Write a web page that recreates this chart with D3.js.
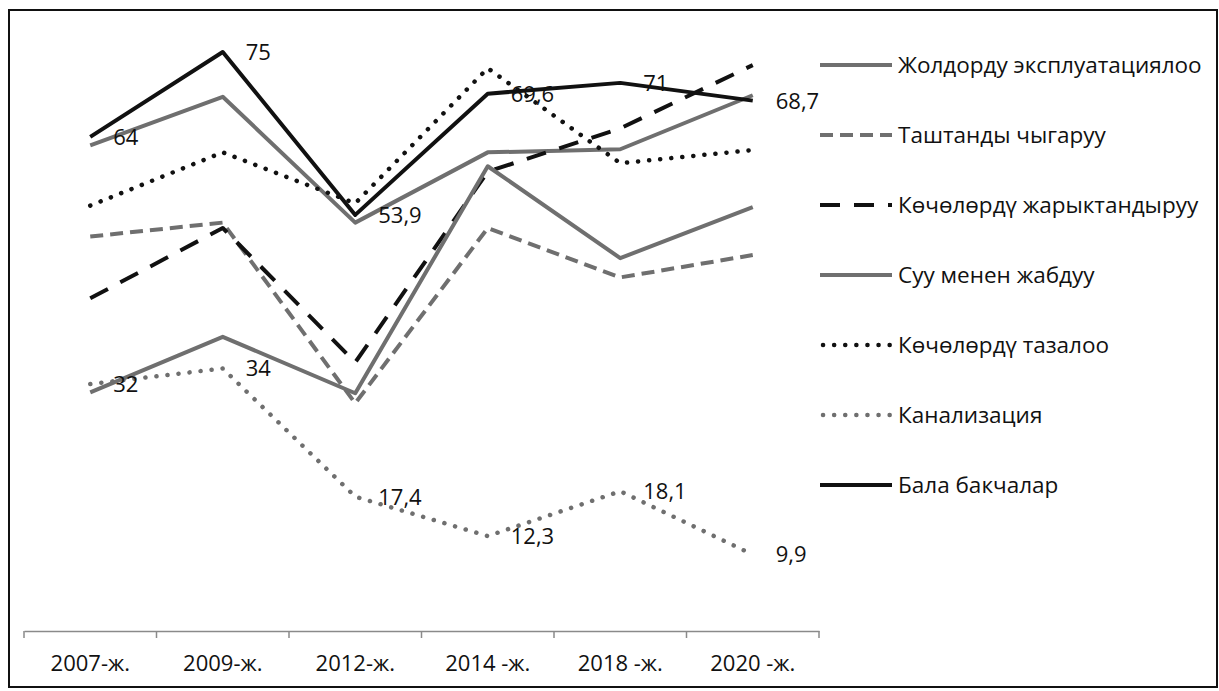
<!DOCTYPE html>
<html>
<head>
<meta charset="utf-8">
<script src="https://cdn.jsdelivr.net/npm/d3@7"></script>
<style>
  body { margin: 0; background: #fff; }
  text { font-family: "Open Sans", "Noto Sans", sans-serif; fill: #111; }
</style>
</head>
<body>
<svg id="chart"></svg>
<script>
var width = 1219;
var height = 691;

// categories on the x axis
var years = ["2007-ж.", "2009-ж.", "2012-ж.", "2014 -ж.", "2018 -ж.", "2020 -ж."];

// series values
var roads      = [62.9, 69.2, 52.9, 62.0, 62.4, 69.4];   // Жолдорду эксплуатациялоо
var waste      = [51.1, 52.9, 29.5, 52.2, 45.8, 48.7];   // Таштанды чыгаруу
var lighting   = [43.1, 52.2, 34.8, 59.5, 65.1, 73.3];   // Көчөлөрдү жарыктандыруу
var water      = [30.9, 38.1, 30.8, 60.2, 48.3, 54.9];   // Суу менен жабдуу
var cleaning   = [55.1, 62.0, 55.4, 72.9, 60.6, 62.3];   // Көчөлөрдү тазалоо
var sewerage   = [32, 34, 17.4, 12.3, 18.1, 9.9];        // Канализация
var kinder     = [64, 75, 53.9, 69.6, 71, 68.7];         // Бала бакчалар

var seriesNames = [
  "Жолдорду эксплуатациялоо",
  "Таштанды чыгаруу",
  "Көчөлөрдү жарыктандыруу",
  "Суу менен жабдуу",
  "Көчөлөрдү тазалоо",
  "Канализация",
  "Бала бакчалар"
];
var seriesValues = [roads, waste, lighting, water, cleaning, sewerage, kinder];
var labelled = ["Канализация", "Бала бакчалар"];   // series that show value labels

var gray = "#6f6f6f";
var black = "#111";
var styles = [
  { color: gray,  dash: null,      cap: "butt"  },
  { color: gray,  dash: "13 7",    cap: "butt"  },
  { color: black, dash: "20 14",   cap: "butt"  },
  { color: gray,  dash: null,      cap: "butt"  },
  { color: black, dash: "0.1 11",  cap: "round" },
  { color: gray,  dash: "0.1 11",  cap: "round" },
  { color: black, dash: null,      cap: "butt"  }
];

var series = seriesNames.map(function(name, i) {
  return { name: name, values: seriesValues[i], style: styles[i] };
});

var svg = d3.select("#chart")
  .attr("width", width)
  .attr("height", height);

// outer frame
svg.append("rect")
  .attr("x", 9).attr("y", 10)
  .attr("width", width - 11).attr("height", height - 14)
  .attr("fill", "none")
  .attr("stroke", "#111")
  .attr("stroke-width", 2);

var xBand = d3.scaleBand().domain(years).range([24, 819]);
var y = d3.scaleLinear().domain([0, 80]).range([631, 631 - 80 * 7.72]);

function cx(i) { return xBand(years[i]) + xBand.bandwidth() / 2; }

// x axis: line, ticks between categories, labels at the centres
var axisG = svg.append("g").attr("transform", "translate(0,631)");
axisG.call(d3.axisBottom(xBand).tickSize(0).tickPadding(24))
  .call(g => g.select(".domain").attr("stroke", "#8a8a8a").attr("stroke-width", 1.5))
  .call(g => g.selectAll(".tick text")
      .attr("font-size", 22)
      .attr("font-family", "\"Open Sans\", sans-serif")
      .attr("fill", "#111"));

var tickPos = d3.range(years.length + 1).map(i => 24 + i * xBand.step());
axisG.selectAll("line.sep")
  .data(tickPos)
  .enter()
  .append("line")
    .attr("class", "sep")
    .attr("x1", d => d).attr("x2", d => d)
    .attr("y1", 0).attr("y2", 7)
    .attr("stroke", "#8a8a8a")
    .attr("stroke-width", 1.5);

var line = d3.line()
  .x((d, i) => cx(i))
  .y(d => y(d));

svg.selectAll("path.series")
  .data(series)
  .enter()
  .append("path")
    .attr("class", "series")
    .attr("d", d => line(d.values))
    .attr("fill", "none")
    .attr("stroke", d => d.style.color)
    .attr("stroke-width", d => d.style.cap == "round" ? 4.5 : 4)
    .attr("stroke-dasharray", d => d.style.dash)
    .attr("stroke-linecap", d => d.style.cap)
    .attr("stroke-linejoin", "round");

// value labels, right of each point
series.filter(d => labelled.indexOf(d.name) >= 0).forEach(function(s) {
  svg.selectAll(null)
    .data(s.values)
    .enter()
    .append("text")
      .attr("x", (d, i) => cx(i) + 23)
      .attr("y", d => y(d))
      .attr("dy", "0.36em")
      .attr("font-size", 22)
      .text(d => String(d).replace(".", ","));
});

// legend
var legend = svg.selectAll("g.legend")
  .data(series)
  .enter()
  .append("g")
    .attr("class", "legend")
    .attr("transform", (d, i) => "translate(0," + (65 + i * 70) + ")");

legend.append("line")
  .attr("x1", d => d.style.cap == "round" ? 823 : 820)
  .attr("x2", 892)
  .attr("y1", 0).attr("y2", 0)
  .attr("stroke", d => d.style.color)
  .attr("stroke-width", d => d.style.cap == "round" ? 4.5 : 4)
  .attr("stroke-dasharray", d => d.style.dash)
  .attr("stroke-linecap", d => d.style.cap);

legend.append("text")
  .attr("x", 898)
  .attr("y", 0)
  .attr("dy", "0.36em")
  .attr("font-size", 22.5)
  .text(d => d.name);
</script>
</body>
</html>
